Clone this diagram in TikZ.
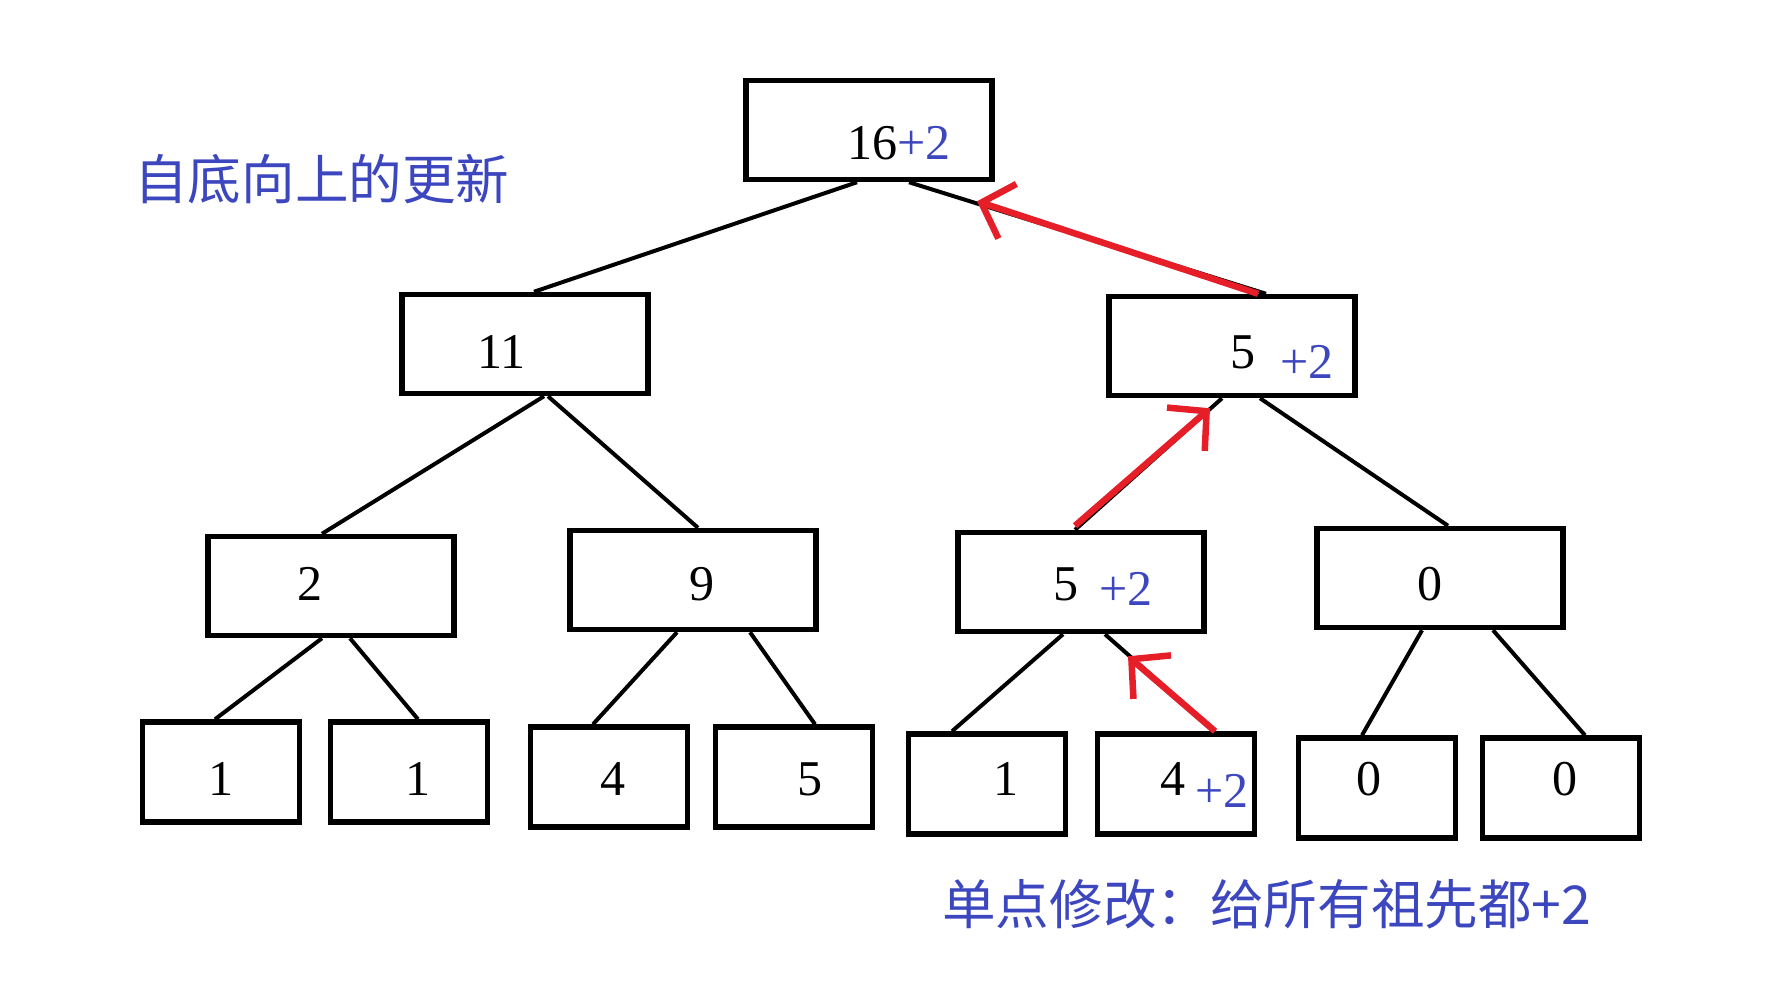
\documentclass[tikz,border=0pt]{standalone}
\usepackage{fontspec}
\setmainfont{Liberation Serif}
\newfontfamily\cjk{Noto Sans CJK SC}
\usetikzlibrary{positioning, calc, arrows.meta}
\definecolor{addblue}{RGB}{60,70,190}
\definecolor{arrowred}{RGB}{230,30,40}
\newcommand{\plustwo}{{\color{addblue}+2}}

\begin{document}
\begin{tikzpicture}[x=0.02cm, y=-0.02cm,
    box/.style={draw, line width=0.11cm, minimum width=4.92cm, minimum height=1.98cm, inner sep=0pt},
    leaf/.style={box, minimum width=3.14cm, minimum height=2cm},
    num/.style={anchor=base west, inner sep=0pt, font=\fontsize{28.5}{30}\selectfont},
    add/.style={num, text=addblue},
    branch/.style={line width=0.08cm},
    update/.style={draw=arrowred, line width=0.13cm, -{Straight Barb[length=0.55cm, width=1.15cm]}},
    title/.style={anchor=west, inner sep=0pt, text=addblue, font=\cjk\fontsize{30.5}{32}\selectfont}]
  \fill [white] (0,0) rectangle (1770,992);
  \useasboundingbox (0,0) rectangle (1770,992);

  % boxes of the tree
  \node [box] (n1) at (869,130) {};
  \node [box] (n2) at (525,344) {};
  \node [box] (n3) at (1232,346) {};
  \node [box] (n4) at (331,586) {};
  \node [box] (n5) at (693,580) {};
  \node [box] (n6) at (1081,582) {};
  \node [box] (n7) at (1440,578) {};
  \node [leaf] (n8) at (221,772) {};
  \node [leaf] (n9) at (409,772) {};
  \node [leaf] (n10) at (609,777) {};
  \node [leaf] (n11) at (794,777) {};
  \node [leaf] (n12) at (987,784) {};
  \node [leaf] (n13) at (1176,784) {};
  \node [leaf] (n14) at (1377,788) {};
  \node [leaf] (n15) at (1561,788) {};

  % values
  \node [num] (t1) at (847,159) {16\plustwo};
  \node [num] (t2) at (477,368) {11};
  \node [num] (t3) at (1230,368) {5};
  \node [add] (p3) at (1280,378) {+2};
  \node [num] (t4) at (297,600) {2};
  \node [num] (t5) at (689,600) {9};
  \node [num] (t6) at (1053,600) {5};
  \node [add] (p6) at (1099,605) {+2};
  \node [num] (t7) at (1417,600) {0};
  \node [num] (t8) at (208,795) {1};
  \node [num] (t9) at (405,795) {1};
  \node [num] (t10) at (600,795) {4};
  \node [num] (t11) at (797,795) {5};
  \node [num] (t12) at (993,795) {1};
  \node [num] (t13) at (1160,795) {4};
  \node [add] (p13) at (1195,807) {+2};
  \node [num] (t14) at (1356,795) {0};
  \node [num] (t15) at (1552,795) {0};

  % branches
  \draw [branch] ($(n1.south)+(-12,0)$) -- ($(n2.north)+(9,0)$);
  \draw [branch] ($(n1.south)+(40,0)$) -- ($(n3.north)+(34,0)$);
  \draw [branch] ($(n2.south)+(19,0)$) -- ($(n4.north)+(-9,0)$);
  \draw [branch] ($(n2.south)+(23,0)$) -- ($(n5.north)+(5,0)$);
  \draw [branch] ($(n3.south)+(-10,0)$) -- ($(n6.north)+(-6,0)$);
  \draw [branch] ($(n3.south)+(28,0)$) -- ($(n7.north)+(8,0)$);
  \draw [branch] ($(n4.south)+(-9,0)$) -- ($(n8.north)+(-6,0)$);
  \draw [branch] ($(n4.south)+(19,0)$) -- ($(n9.north)+(9,0)$);
  \draw [branch] ($(n5.south)+(-16,0)$) -- ($(n10.north)+(-16,0)$);
  \draw [branch] ($(n5.south)+(57,0)$) -- ($(n11.north)+(21,0)$);
  \draw [branch] ($(n6.south)+(-18,0)$) -- ($(n12.north)+(-35,0)$);
  \draw [branch] ($(n6.south)+(24,0)$) -- ($(n13.north)+(39,0)$);
  \draw [branch] ($(n7.south)+(-18,0)$) -- ($(n14.north)+(-15,0)$);
  \draw [branch] ($(n7.south)+(53,0)$) -- ($(n15.north)+(24,0)$);

  % update path
  \draw [update] ($(n13.north)+(39,0)$) -- ($(n6.south)+(47,22)$);
  \draw [update] ($(n6.north)+(-6,-4)$) -- ($(n3.south)+(-22,10)$);
  \draw [update] ($(n3.north)+(26,0)$) -- ($(n1.south)+(108,19)$);

  % captions
  \node [title] (bottomup) at (134,179) {自底向上的更新};
  \node [title] (pointadd) at (942,904) {单点修改：给所有祖先都+2};
\end{tikzpicture}
\end{document}
